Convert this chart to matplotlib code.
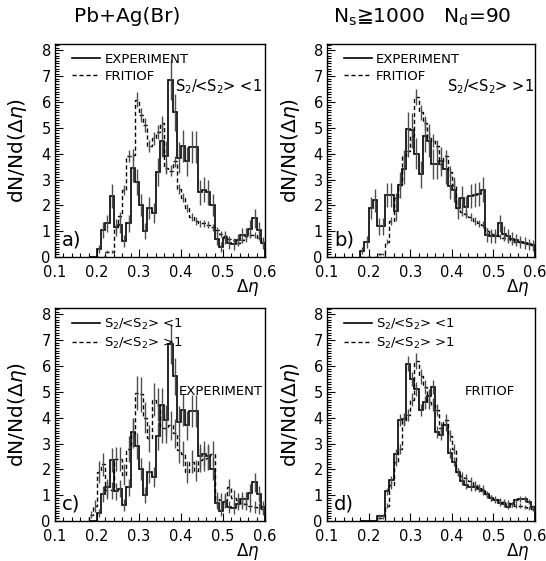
import numpy as np
import matplotlib
matplotlib.use("Agg")
import matplotlib.pyplot as plt
from matplotlib.ticker import MultipleLocator

plt.rcParams['font.family'] = ['DejaVu Sans']
plt.rcParams['mathtext.fontset'] = 'dejavusans'

# ---- data: bins of width 0.01 from 0.18 to 0.60 ----
bin_start = 0.18
bin_width = 0.01

# experiment, S2/<S2> < 1
exp_low = [0.0, 0.0,
           0.3, 1.05, 1.3, 2.35, 1.15, 1.25, 0.62, 1.3, 3.45, 2.9,
           2.0, 1.0, 1.9, 1.7, 3.3, 4.5, 3.9, 6.85, 5.6, 3.85,
           4.3, 3.7, 4.25, 4.25, 2.5, 2.6, 2.5, 2.0, 0.7, 0.4,
           0.75, 0.55, 0.5, 0.65, 0.85, 0.85, 1.1, 1.5, 1.05, 0.55]
# experiment, S2/<S2> > 1
exp_high = [0.25, 0.6,
            1.9, 2.2, 1.2, 1.2, 2.4, 2.4, 1.8, 2.8, 3.4, 4.95,
            4.9, 4.0, 3.2, 4.7, 4.5, 3.6, 3.6, 3.7, 3.4, 2.75,
            2.6, 1.9, 2.3, 1.95, 2.35, 2.4, 2.45, 2.6, 0.85, 0.8,
            0.8, 1.3, 0.9, 0.8, 0.7, 0.65, 0.6, 0.55, 0.5, 0.45]
# FRITIOF, S2/<S2> < 1
frit_low = [0.0, 0.0,
            0.0, 0.0, 0.2, 0.2, 1.15, 1.6, 2.6, 3.9, 3.95, 6.1,
            5.5, 5.1, 4.3, 4.6, 4.85, 5.2, 3.45, 3.35, 3.7, 2.65,
            2.3, 1.9, 1.55, 1.4, 1.3, 1.3, 1.25, 1.15, 1.05, 0.9,
            0.8, 0.7, 0.65, 0.55, 0.65, 0.8, 0.85, 0.85, 0.75, 0.55]
# FRITIOF, S2/<S2> > 1
frit_high = [0.0, 0.0,
             0.0, 0.0, 0.1, 0.1, 0.6, 1.4, 2.3, 2.8, 3.9, 4.1,
             4.7, 6.2, 5.6, 5.2, 4.6, 4.5, 4.3, 3.6, 3.9, 3.3,
             2.8, 1.9, 1.75, 1.65, 1.55, 1.4, 1.3, 1.25, 1.0, 0.9,
             0.85, 0.8, 0.75, 0.7, 0.65, 0.6, 0.6, 0.55, 0.5, 0.45]

exp_err_scale = 0.3    # statistical (Poisson-like) error scale, experiment
frit_err_scale = 0.12  # statistical error scale, FRITIOF

x_ticks = [0.1, 0.2, 0.3, 0.4, 0.5, 0.6]
y_ticks = [0, 1, 2, 3, 4, 5, 6, 7, 8]

lab_low = r"S$_2$/<S$_2$> <1"
lab_high = r"S$_2$/<S$_2$> >1"

panels = [
    dict(letter="a)", solid=exp_low, dashed=frit_low, serr=exp_err_scale, derr=frit_err_scale,
         labels=("EXPERIMENT", "FRITIOF"), note=lab_low, note_xy=(0.57, 0.80)),
    dict(letter="b)", solid=exp_high, dashed=frit_high, serr=exp_err_scale, derr=frit_err_scale,
         labels=("EXPERIMENT", "FRITIOF"), note=lab_high, note_xy=(0.575, 0.80)),
    dict(letter="c)", solid=exp_low, dashed=exp_high, serr=exp_err_scale, derr=exp_err_scale,
         labels=(lab_low, lab_high), note="EXPERIMENT", note_xy=(0.59, 0.61)),
    dict(letter="d)", solid=frit_low, dashed=frit_high, serr=frit_err_scale, derr=frit_err_scale,
         labels=(lab_low, lab_high), note="FRITIOF", note_xy=(0.66, 0.61)),
]

W, H = 546, 561
fig = plt.figure(figsize=(W / 100, H / 100), dpi=100)

ax_ws = [210 / W, 208 / W]
ax_h = 213 / H
lefts = [55 / W, 327 / W]
bottoms = [1 - 257 / H, 1 - 521 / H]

edges = bin_start + bin_width * np.arange(len(exp_low) + 1)
centers = 0.5 * (edges[:-1] + edges[1:])

for i, p in enumerate(panels):
    r, c = divmod(i, 2)
    ax = fig.add_axes([lefts[c], bottoms[r], ax_ws[c], ax_h])
    s = np.asarray(p["solid"])
    d = np.asarray(p["dashed"])
    ax.stairs(s, edges, baseline=0, color="black", lw=1.2, label=p["labels"][0])
    ax.stairs(d, edges, baseline=0, color="black", lw=1.0, linestyle=(0, (3, 2)),
              label=p["labels"][1])
    m = s > 0
    ax.vlines(centers[m], s[m] - p["serr"] * np.sqrt(s[m]), s[m] + p["serr"] * np.sqrt(s[m]),
              color="0.3", lw=1.0)
    m = d > 0
    ax.vlines(centers[m], d[m] - p["derr"] * np.sqrt(d[m]), d[m] + p["derr"] * np.sqrt(d[m]),
              color="0.3", lw=1.0)

    ax.set_xlim(0.1, 0.6)
    ax.set_ylim(0, 8.25)
    ax.set_xticks(x_ticks)
    ax.set_xticklabels([f"{t:.1f}" for t in x_ticks])
    ax.set_yticks(y_ticks)
    ax.xaxis.set_minor_locator(MultipleLocator(0.02))
    ax.yaxis.set_minor_locator(MultipleLocator(0.1))
    ax.tick_params(which="both", direction="in", top=False, right=False,
                   labelsize=10.5, width=0.8)
    ax.tick_params(axis="x", pad=6)
    ax.tick_params(axis="y", pad=3)
    ax.tick_params(which="major", length=6)
    ax.tick_params(which="minor", length=3)
    for sp in ax.spines.values():
        sp.set_linewidth(1.0)

    ax.legend(loc="upper left", frameon=False, fontsize=9.5, handlelength=2.1,
              handletextpad=0.35, labelspacing=0.3, borderaxespad=0.25,
              bbox_to_anchor=(0.04, 1.0))
    ax.text(0.035, 0.035, p["letter"], transform=ax.transAxes, fontsize=14,
            ha="left", va="bottom")
    ax.text(p["note_xy"][0], p["note_xy"][1], p["note"], transform=ax.transAxes,
            fontsize=10.5 if r == 0 else 9.5, ha="left", va="center")
    ax.text(0.975, -0.095, r"$\Delta\eta$", transform=ax.transAxes, fontsize=12,
            ha="right", va="top")
    fig.text((18 if c == 0 else 290) / W, bottoms[r] + ax_h / 2, r"dN/Nd($\Delta\eta$)",
             rotation=90, fontsize=14.5, ha="center", va="center")

fig.text(127 / W, 1 - 17 / H, "Pb+Ag(Br)", fontsize=14.5, ha="center", va="center")
fig.text(422 / W, 1 - 17 / H, r"N$_{\rm s}$≧1000   N$_{\rm d}$=90", fontsize=14.5,
         ha="center", va="center")

fig.savefig("out.png", dpi=100)
